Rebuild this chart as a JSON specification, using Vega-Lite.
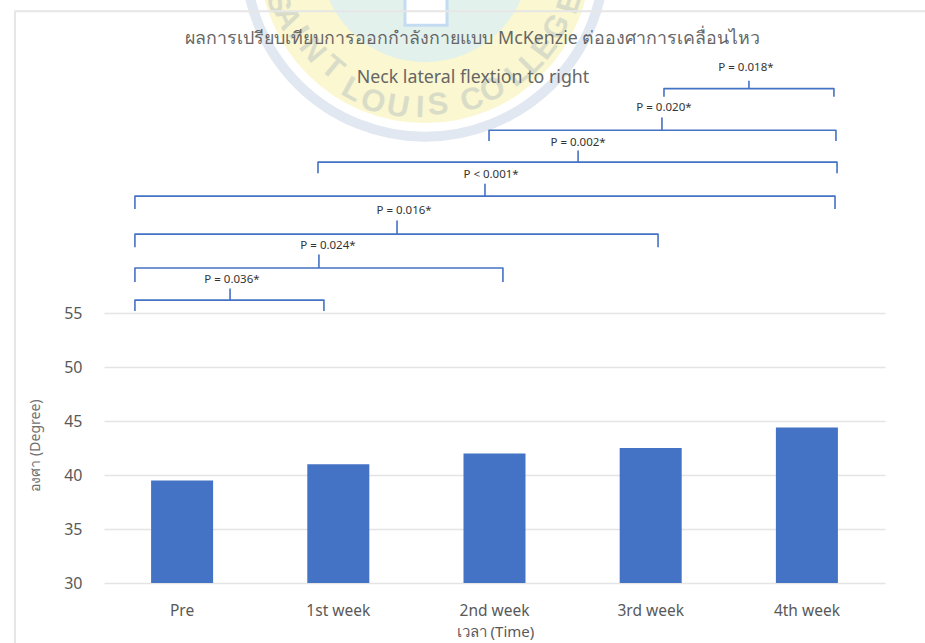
{"$schema":"https://vega.github.io/schema/vega-lite/v6.json","width":781,"height":583,"autosize":{"type":"none"},"padding":{"left":104,"top":0,"right":40,"bottom":60},"background":"white","config":{"view":{"stroke":null},"font":"Noto Sans"},"resolve":{"scale":{"x":"independent"}},"datasets":{"bars":[{"time":"Pre","degree":39.5},{"time":"1st week","degree":41},{"time":"2nd week","degree":42},{"time":"3rd week","degree":42.5},{"time":"4th week","degree":44.4}],"brackets":[{"b":"B1","s":1,"u":3.585,"d":75.05},{"b":"B1","s":2,"u":3.585,"d":75.79},{"b":"B1","s":3,"u":4.129,"d":75.79},{"b":"B1","s":4,"u":4.129,"d":76.48},{"b":"B1","s":5,"u":4.129,"d":75.79},{"b":"B1","s":6,"u":4.673,"d":75.79},{"b":"B1","s":7,"u":4.673,"d":75.05},{"b":"B2","s":1,"u":2.465,"d":70.93},{"b":"B2","s":2,"u":2.465,"d":71.94},{"b":"B2","s":3,"u":3.572,"d":71.94},{"b":"B2","s":4,"u":3.572,"d":73.06},{"b":"B2","s":5,"u":3.572,"d":71.94},{"b":"B2","s":6,"u":4.686,"d":71.94},{"b":"B2","s":7,"u":4.686,"d":70.93},{"b":"B3","s":1,"u":1.37,"d":67.96},{"b":"B3","s":2,"u":1.37,"d":68.98},{"b":"B3","s":3,"u":3.035,"d":68.98},{"b":"B3","s":4,"u":3.035,"d":70.0},{"b":"B3","s":5,"u":3.035,"d":68.98},{"b":"B3","s":6,"u":4.693,"d":68.98},{"b":"B3","s":7,"u":4.693,"d":67.96},{"b":"B4","s":1,"u":0.198,"d":64.63},{"b":"B4","s":2,"u":0.198,"d":65.83},{"b":"B4","s":3,"u":2.439,"d":65.83},{"b":"B4","s":4,"u":2.439,"d":66.94},{"b":"B4","s":5,"u":2.439,"d":65.83},{"b":"B4","s":6,"u":4.68,"d":65.83},{"b":"B4","s":7,"u":4.68,"d":64.63},{"b":"B5","s":1,"u":0.198,"d":61.11},{"b":"B5","s":2,"u":0.198,"d":62.31},{"b":"B5","s":3,"u":1.876,"d":62.31},{"b":"B5","s":4,"u":1.876,"d":63.52},{"b":"B5","s":5,"u":1.876,"d":62.31},{"b":"B5","s":6,"u":3.547,"d":62.31},{"b":"B5","s":7,"u":3.547,"d":61.11},{"b":"B6","s":1,"u":0.198,"d":57.87},{"b":"B6","s":2,"u":0.198,"d":59.17},{"b":"B6","s":3,"u":1.376,"d":59.17},{"b":"B6","s":4,"u":1.376,"d":60.37},{"b":"B6","s":5,"u":1.376,"d":59.17},{"b":"B6","s":6,"u":2.554,"d":59.17},{"b":"B6","s":7,"u":2.554,"d":57.87},{"b":"B7","s":1,"u":0.198,"d":55.19},{"b":"B7","s":2,"u":0.198,"d":56.2},{"b":"B7","s":3,"u":0.807,"d":56.2},{"b":"B7","s":4,"u":0.807,"d":57.22},{"b":"B7","s":5,"u":0.807,"d":56.2},{"b":"B7","s":6,"u":1.408,"d":56.2},{"b":"B7","s":7,"u":1.408,"d":55.19}],"plabels":[{"t":"P = 0.018*","u":4.11,"d":77.69},{"t":"P = 0.020*","u":3.585,"d":73.98},{"t":"P = 0.002*","u":3.035,"d":70.74},{"t":"P < 0.001*","u":2.478,"d":67.78},{"t":"P = 0.016*","u":1.921,"d":64.44},{"t":"P = 0.024*","u":1.434,"d":61.2},{"t":"P = 0.036*","u":0.819,"d":58.06}],"titles":[{"t":"ผลการเปรียบเทียบการออกกำลังกายแบบ McKenzie ต่อองศาการเคลื่อนไหว","u":2.362,"d":80.37},{"t":"Neck lateral flextion to right","u":2.362,"d":76.76}],"frame":[{"s":1,"u":5.3,"d":82.96},{"s":2,"u":-0.57,"d":82.96},{"s":3,"u":-0.57,"d":24.4}],"seal":[{"u":2.055,"d":87.96}],"box":[{"u":1.927,"u2":2.196,"d":85,"d2":81.67}],"letters":[{"t":"S","u":1.114,"d":83.7,"a":72.6},{"t":"A","u":1.172,"d":82.31,"a":66},{"t":"I","u":1.242,"d":80.93,"a":59},{"t":"N","u":1.332,"d":79.35,"a":50.5},{"t":"T","u":1.46,"d":77.69,"a":40},{"t":"L","u":1.588,"d":75.65,"a":28.8},{"t":"O","u":1.722,"d":74.54,"a":19.7},{"t":"U","u":1.882,"d":74.07,"a":10.2},{"t":"I","u":2.023,"d":73.98,"a":1.9},{"t":"S","u":2.138,"d":74.26,"a":-5},{"t":"C","u":2.356,"d":74.72,"a":-18},{"t":"O","u":2.49,"d":75.65,"a":-27},{"t":"L","u":2.644,"d":77.04,"a":-38},{"t":"L","u":2.74,"d":78.15,"a":-45},{"t":"E","u":2.823,"d":79.54,"a":-53},{"t":"G","u":2.9,"d":81.48,"a":-62},{"t":"E","u":2.984,"d":83.7,"a":-72}]},"layer":[{"data":{"name":"seal"},"mark":{"type":"point","filled":true,"fill":"#fbf7d0","stroke":null,"size":110000,"shape":"circle","opacity":1},"encoding":{"x":{"field":"u","type":"quantitative","scale":{"domain":[0,5]},"axis":null},"y":{"field":"d","type":"quantitative","scale":{"domain":[30,84],"zero":false,"nice":false},"axis":{"values":[30,35,40,45,50,55],"title":"องศา (Degree)","titleFontSize":14,"titleFontWeight":"normal","titleColor":"#6f6f6f","titleX":-62,"titleY":445,"domain":false,"ticks":false,"labelFontSize":16,"labelColor":"#595959","labelPadding":22,"gridColor":"#e4e4e4","gridWidth":1.5,"grid":true}}}},{"data":{"name":"seal"},"mark":{"type":"point","filled":true,"fill":"#e3f1ec","stroke":null,"size":44000,"shape":"circle","opacity":1},"encoding":{"x":{"field":"u","type":"quantitative","scale":{"domain":[0,5]},"axis":null},"y":{"field":"d","type":"quantitative"}}},{"data":{"name":"seal"},"mark":{"type":"point","filled":false,"fill":null,"stroke":"#e2e8f1","strokeWidth":10,"size":129000,"shape":"circle","opacity":1},"encoding":{"x":{"field":"u","type":"quantitative","scale":{"domain":[0,5]},"axis":null},"y":{"field":"d","type":"quantitative"}}},{"data":{"name":"box"},"mark":{"type":"rect","fill":"white","stroke":"#c4dcf2","strokeWidth":3},"encoding":{"x":{"field":"u","type":"quantitative","scale":{"domain":[0,5]},"axis":null},"x2":{"field":"u2"},"y":{"field":"d","type":"quantitative"},"y2":{"field":"d2"}}},{"data":{"name":"letters"},"mark":{"type":"text","fontSize":31,"fontWeight":"bold","color":"#d9ddc8","font":"Liberation Sans"},"encoding":{"text":{"field":"t"},"angle":{"field":"a","type":"quantitative","scale":null},"x":{"field":"u","type":"quantitative","scale":{"domain":[0,5]},"axis":null},"y":{"field":"d","type":"quantitative"}}},{"data":{"name":"frame"},"mark":{"type":"line","color":"#e6e6e6","strokeWidth":2},"encoding":{"x":{"field":"u","type":"quantitative","scale":{"domain":[0,5]},"axis":null},"y":{"field":"d","type":"quantitative"},"order":{"field":"s"}}},{"data":{"name":"bars"},"mark":{"type":"bar","color":"#4472c4"},"encoding":{"x":{"field":"time","type":"nominal","sort":null,"scale":{"paddingInner":0.603,"paddingOuter":0.3015},"axis":{"title":"เวลา (Time)","titleFontSize":15,"titleFontWeight":"normal","titleColor":"#595959","titleX":391,"titleY":41,"labelAngle":0,"labelFontSize":15.5,"labelColor":"#595959","labelPadding":20,"domain":false,"ticks":false}},"y":{"field":"degree","type":"quantitative"},"y2":{"datum":30}}},{"data":{"name":"brackets"},"mark":{"type":"line","color":"#4472c4","strokeWidth":1.6,"strokeJoin":"round","interpolate":"linear"},"encoding":{"x":{"field":"u","type":"quantitative","scale":{"domain":[0,5]},"axis":null},"y":{"field":"d","type":"quantitative"},"detail":{"field":"b"},"order":{"field":"s"}}},{"data":{"name":"plabels"},"mark":{"type":"text","fontSize":11.5,"color":"#333333"},"encoding":{"text":{"field":"t"},"x":{"field":"u","type":"quantitative","scale":{"domain":[0,5]},"axis":null},"y":{"field":"d","type":"quantitative"}}},{"data":{"name":"titles"},"mark":{"type":"text","fontSize":17.8,"color":"#666666"},"encoding":{"text":{"field":"t"},"x":{"field":"u","type":"quantitative","scale":{"domain":[0,5]},"axis":null},"y":{"field":"d","type":"quantitative"}}}]}
